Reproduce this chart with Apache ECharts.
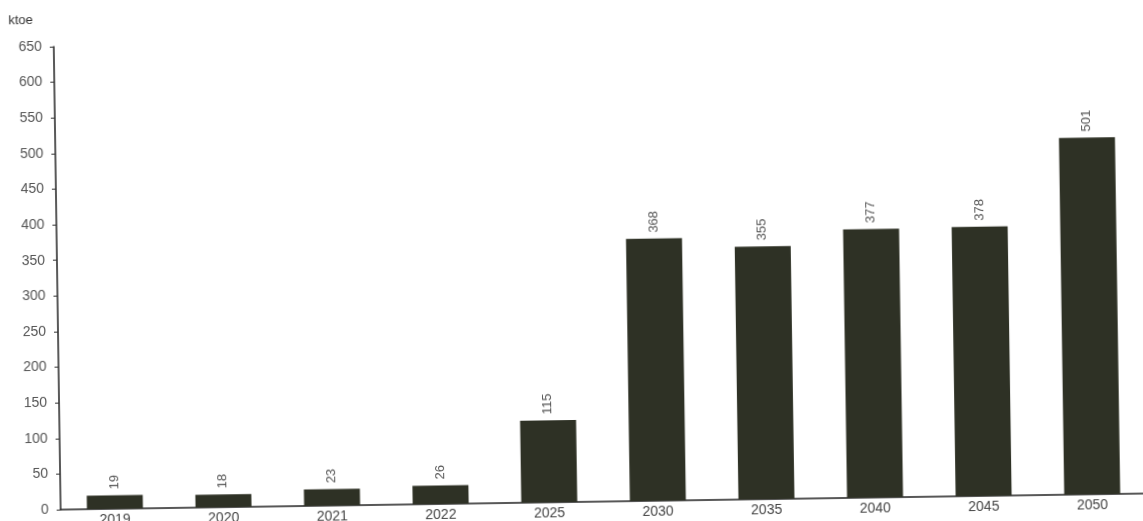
<!DOCTYPE html>
<html>
<head>
<meta charset="utf-8">
<script src="https://cdn.jsdelivr.net/npm/echarts@6/dist/echarts.min.js"></script>
<style>
html,body{margin:0;padding:0;background:#fff;overflow:hidden;}
#chart{width:1143px;height:521px;transform:rotate(-0.85deg);transform-origin:50% 50%;}
</style>
</head>
<body>
<div id="chart"></div>
<script>
const categories = ['2019','2020','2021','2022','2025','2030','2035','2040','2045','2050'];
const values = [19, 18, 23, 26, 115, 368, 355, 377, 378, 501];
const yTicks = [0, 50, 100, 150, 200, 250, 300, 350, 400, 450, 500, 550, 600, 650];

const FONT = 'Liberation Sans, Arial, sans-serif';
const chart = echarts.init(document.getElementById('chart'), null, {renderer: 'canvas'});
chart.setOption({
  animation: false,
  backgroundColor: '#fff',
  textStyle: {fontFamily: FONT},
  graphic: [{
    type: 'text', left: 12, top: 6,
    style: {text: 'ktoe', fontSize: 13, fill: '#333', fontFamily: FONT}
  }],
  grid: {left: 57, width: 1092, top: 39, bottom: 19, containLabel: false},
  xAxis: {
    type: 'category',
    data: categories,
    axisLine: {show: true, lineStyle: {color: '#222', width: 1.5}},
    axisTick: {show: false},
    axisLabel: {color: '#444', fontSize: 14, margin: 4}
  },
  yAxis: {
    type: 'value',
    min: yTicks[0], max: yTicks[yTicks.length - 1], interval: 50,
    axisLine: {show: true, lineStyle: {color: '#222', width: 1.5}},
    axisTick: {show: true, length: 4, lineStyle: {color: '#333'}},
    axisLabel: {color: '#555', fontSize: 14, margin: 12},
    splitLine: {show: false}
  },
  series: [{
    type: 'bar',
    data: values,
    barWidth: 56,
    itemStyle: {color: '#2e3125'},
    label: {
      show: true, position: 'top', rotate: 90, distance: 6,
      align: 'left', verticalAlign: 'middle',
      color: '#555', fontSize: 13
    }
  }]
});
</script>
</body>
</html>
